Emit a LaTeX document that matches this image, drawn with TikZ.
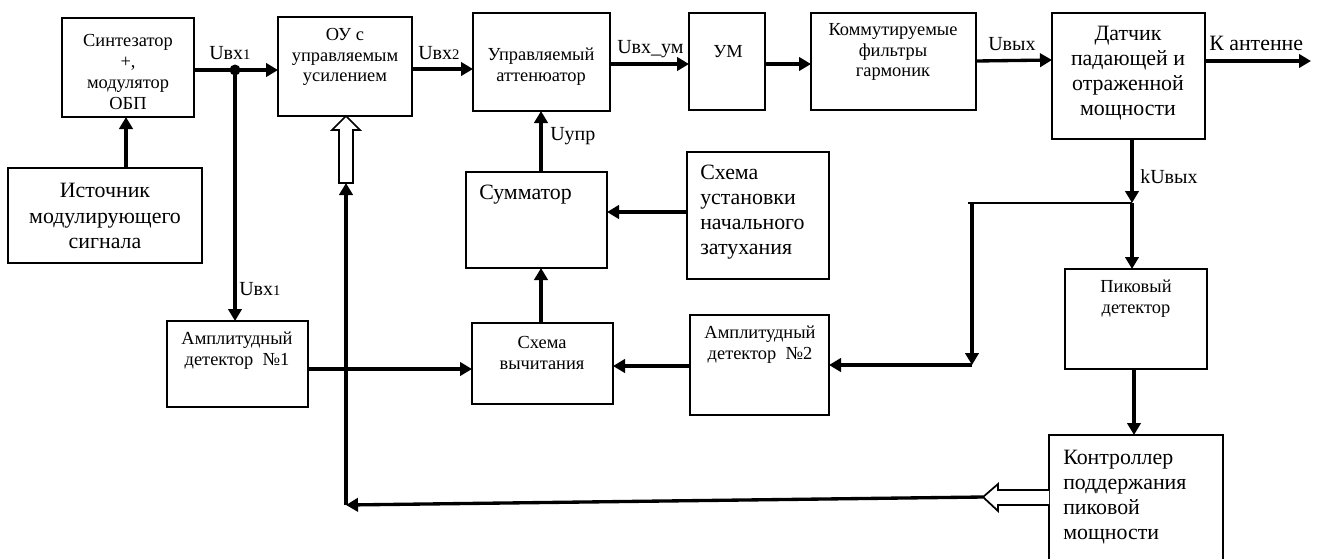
\documentclass[tikz,border=0pt]{standalone}
\usepackage{fontspec}
\setmainfont{Liberation Serif}
\usetikzlibrary{arrows.meta}

% text sizes: boxes with small text, boxes with large text, signal labels
\newcommand\fsm{\fontsize{13.8pt}{15.6pt}\selectfont}
\newcommand\fbg{\fontsize{16.4pt}{18.9pt}\selectfont}
\newcommand\fsg{\fontsize{15pt}{15pt}\selectfont}
\newcommand\sig[1]{{\fsg U#1}}
\newcommand\idx[1]{{\fontsize{11pt}{11pt}\selectfont #1}}

% a block given by its top-left and bottom-right corners (in px)
\newcommand\blk[5]{\node[box,minimum width={(#4-#2)*0.75pt},minimum height={(#5-#3)*0.75pt}] (#1) at (#2,#3) {};}

\begin{document}
\begin{tikzpicture}[x=0.75pt,y=-0.75pt,
  box/.style={draw,line width=1.8pt,inner sep=0pt,outer sep=0pt,anchor=north west},
  sm/.style={align=center,inner sep=0pt,font=\fsm},
  bg/.style={align=center,inner sep=0pt,font=\fbg},
  bgl/.style={align=left,inner sep=0pt,font=\fbg,anchor=west},
  lbl/.style={inner sep=0pt,anchor=base west},
  ln/.style={line width=2.5pt},
  thin/.style={line width=1.5pt},
  arr/.style={line width=2.5pt,-{Triangle[length=9pt,width=10pt]}},
  hol/.style={line width=1.3pt,fill=white,line join=miter}
]
\useasboundingbox (0,0) rectangle (1317,558);

% ---- blocks ----
\blk{synth}{62}{18}{194}{117}
\blk{ist}{8}{168}{202}{263}
\blk{ou}{278}{17}{412}{116}
\blk{att}{473}{13}{610}{111}
\blk{um}{689}{13}{765}{110}
\blk{filt}{811}{13}{976}{110}
\blk{dat}{1052}{13}{1205}{139}
\blk{summ}{466}{172}{607}{268}
\blk{shema}{687}{152}{829}{279}
\blk{ad1}{167}{321}{308}{407}
\blk{vych}{472}{323}{613}{404}
\blk{ad2}{690}{315}{829}{415}
\blk{pik}{1065}{269}{1207}{369}
\blk{kontr}{1049}{435}{1223}{564}

% ---- block texts ----
\node[sm] (synth-t) at (128,72) {Синтезатор\\+,\\модулятор\\ОБП};
\node[bg] (ist-t) at (105,216) {Источник\\модулирующего\\сигнала};
\node[sm] (ou-t) at (345,57) {ОУ с\\управляемым\\усилением};
\node[sm] (att-t) at (541,67) {Управляемый\\аттенюатор};
\node[sm] (um-t) at (728,52) {УМ};
\node[sm] (filt-t) at (893,52) {Коммутируемые\\фильтры\\гармоник};
\node[bg] (dat-t) at (1128,73) {Датчик\\падающей и\\отраженной\\мощности};
\node[bgl] (summ-t) at (479,195) {Сумматор};
\node[bgl] (shema-t) at (700,212) {Схема\\установки\\начального\\затухания};
\node[sm] (ad1-t) at (237,351) {Амплитудный\\детектор~~№1};
\node[sm] (vych-t) at (542,353) {Схема\\вычитания};
\node[sm] (ad2-t) at (760,345) {Амплитудный\\детектор~~№2};
\node[sm] (pik-t) at (1136,299) {Пиковый\\детектор};
\node[bgl] (kontr-t) at (1063,497) {Контроллер\\поддержания\\пиковой\\мощности};

% ---- signal labels ----
\node[lbl] (l-vx1) at (209,59) {\sig{вх\idx{1}}};
\node[lbl] (l-vx2) at (418,59) {\sig{вх\idx{2}}};
\node[lbl] (l-vxum) at (617,53) {\sig{вх\_ум}};
\node[lbl] (l-upr) at (550,140) {\sig{упр}};
\node[lbl] (l-vyx) at (988,50) {\sig{вых}};
\node[lbl,font=\fbg] (l-ant) at (1209,50) {К антенне};
\node[lbl] (l-kvyx) at (1140,183) {{\fsg k}\sig{вых}};
\node[lbl] (l-vx1b) at (239,295) {\sig{вх\idx{1}}};

% ---- forward path ----
\coordinate (j1) at (235,70);
\draw[ln] (synth.east |- j1) -- (j1);
\draw[arr] (j1) -- (j1 -| ou.west);
\fill (j1) circle (5.5);
\draw[arr] (j1) -- (j1 |- ad1.north);
\draw[arr] (126,0 |- ist.north) -- (126,0 |- synth.south);
\draw[arr] (ou.east |- 0,69) -- (att.west |- 0,69);
\draw[arr] (att.east |- 0,64) -- (um.west |- 0,64);
\draw[arr] (um.east |- 0,64) -- (filt.west |- 0,64);
\draw[arr] (filt.east |- 0,61) -- (dat.west |- 0,60);
\coordinate (ant) at (1311,61);
\draw[arr] (dat.east |- ant) -- (ant);

% ---- sensor branch ----
\coordinate (jk) at (1132,203);
\coordinate (jl) at (968,203);
\coordinate (jc) at (972,203);
\coordinate (jd) at (972,365);
\draw[arr] (jk |- dat.south) -- (jk);
\draw[arr] (jk) -- (jk |- pik.north);
\draw[thin] (jk) -- (jl);
\draw[arr] (jc) -- (jd);
\draw[arr] (jd) -- (jd -| ad2.east);
\draw[arr] (1134,0 |- pik.south) -- (1134,0 |- kontr.north);

% ---- attenuator control loop ----
\draw[arr] (ad2.west |- 0,366) -- (vych.east |- 0,366);
\draw[arr] (ad1.east |- 0,369) -- (vych.west |- 0,369);
\draw[arr] (541,0 |- vych.north) -- (541,0 |- summ.south);
\draw[arr] (541,0 |- summ.north) -- (541,0 |- att.south);
\draw[arr] (shema.west |- 0,212) -- (summ.east |- 0,212);

% ---- gain control loop with hollow arrows ----
\draw[hol] (kontr.west |- 0,490) -- (998,490) -- (998,484) -- (983,497)
  -- (998,511) -- (998,505) -- (kontr.west |- 0,505);
\coordinate (ht) at (983,497);
\coordinate (gb) at (346,505);
\coordinate (gt) at (346,183);
\draw[arr] (ht) -- (gb);
\draw[ln] (gb) -- (346,503);
\draw[arr] (gb) -- (gt);
\draw[hol] (339,183) -- (339,130) -- (332,130) -- (346,0 |- ou.south)
  -- (360,130) -- (353,130) -- (353,183) -- cycle;
\end{tikzpicture}
\end{document}
